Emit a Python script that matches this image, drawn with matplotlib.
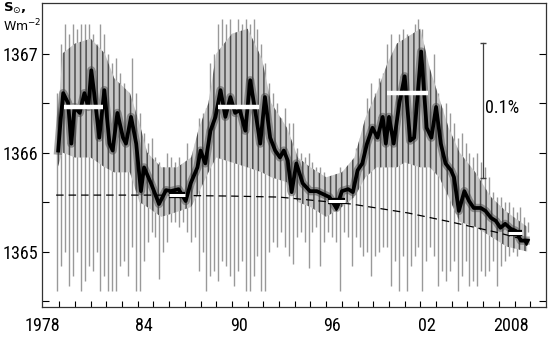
import numpy as np
import matplotlib
matplotlib.use("Agg")
import matplotlib.pyplot as plt

# quarterly envelope of the daily TSI values (W m-2)
spike_years = np.arange(1978.875, 2009.0, 0.25)
daily_max = [1366.6,
             1367.1, 1367.3, 1367.2, 1367.3,
             1367.25, 1367.3, 1367.3, 1367.3,
             1367.2, 1367.1, 1367.3, 1367.2,
             1367.0, 1366.9, 1366.95, 1366.8,
             1366.7, 1366.6, 1366.95, 1366.6,
             1366.4, 1366.2, 1366.1, 1366.15,
             1365.95, 1365.9, 1365.85, 1366.0,
             1365.95, 1365.9, 1365.95, 1365.85,
             1366.1, 1365.95, 1366.1, 1366.35,
             1366.4, 1366.45, 1366.9, 1367.0,
             1367.3, 1367.35, 1367.3, 1367.35,
             1367.2, 1367.35, 1367.3, 1367.35,
             1367.3, 1367.35, 1367.25, 1367.1,
             1366.9, 1366.7, 1366.6, 1366.5,
             1366.35, 1366.45, 1366.3, 1366.3,
             1366.05, 1366.0, 1365.95, 1366.0,
             1365.9, 1365.85, 1365.85, 1365.8,
             1365.75, 1365.7, 1365.7, 1365.85,
             1365.8, 1365.8, 1365.85, 1366.05,
             1366.15, 1366.25, 1366.55, 1366.7,
             1366.6, 1366.75, 1366.8, 1367.1,
             1367.2, 1367.0, 1367.2, 1367.25,
             1367.2, 1367.1, 1367.3, 1367.35,
             1367.25, 1366.9, 1366.75, 1367.0,
             1366.6, 1366.45, 1366.5, 1366.4,
             1366.3, 1366.15, 1366.2, 1366.1,
             1366.0, 1365.95, 1366.0, 1365.9,
             1365.85, 1365.75, 1365.6, 1365.55,
             1365.55, 1365.5, 1365.5, 1365.45,
             1365.4, 1365.45, 1365.35, 1365.3]
daily_min = [1364.6,
             1364.85, 1365.0, 1364.65, 1364.75,
             1365.0, 1364.6, 1364.7, 1364.85,
             1364.8, 1365.0, 1364.6, 1364.75,
             1364.6, 1364.6, 1364.6, 1364.85,
             1364.9, 1364.75, 1365.05, 1364.6,
             1364.6, 1364.9, 1365.1, 1365.2,
             1365.15, 1364.72, 1365.0, 1365.1,
             1365.3, 1365.3, 1365.25, 1365.3,
             1365.2, 1365.1, 1365.15, 1364.8,
             1365.0, 1364.6, 1364.75, 1364.8,
             1364.7, 1364.9, 1364.85, 1364.75,
             1364.65, 1364.8, 1364.9, 1364.6,
             1364.6, 1364.75, 1364.95, 1364.6,
             1364.6, 1365.0, 1365.1, 1365.05,
             1365.2, 1365.05, 1364.95, 1364.87,
             1365.15, 1365.2, 1365.1, 1364.83,
             1365.2, 1365.25, 1364.85, 1365.1,
             1365.2, 1365.15, 1365.1, 1364.6,
             1365.2, 1365.15, 1364.85, 1365.15,
             1365.05, 1364.95, 1365.0, 1364.75,
             1364.95, 1365.0, 1365.05, 1365.05,
             1364.65, 1364.9, 1364.6, 1364.95,
             1364.6, 1364.85, 1364.95, 1365.05,
             1364.6, 1364.9, 1365.05, 1364.95,
             1364.65, 1364.8, 1364.7, 1364.8,
             1364.9, 1364.6, 1364.75, 1364.9,
             1364.65, 1364.7, 1364.65, 1364.8,
             1364.75, 1364.8, 1364.9, 1364.65,
             1364.85, 1364.9, 1364.95, 1365.0,
             1364.95, 1365.05, 1365.1, 1365.2]

# where most of the daily values sit (the dark grey core)
core_years = [1978.9, 1979.2, 1980.0, 1981.0, 1981.9, 1982.5, 1983.5, 1984.1, 1984.6,
              1985.5, 1986.5, 1987.4, 1987.9, 1988.5, 1989.0, 1990.0, 1991.0, 1991.9,
              1992.5, 1993.5, 1994.2, 1995.0, 1996.0, 1997.0, 1997.8, 1998.5, 1999.2,
              1999.9, 2000.5, 2001.0, 2002.0, 2002.6, 2003.2, 2003.8, 2004.5, 2005.5,
              2006.5, 2007.5, 2008.8]
core_hi = [1366.3, 1367.0, 1367.1, 1367.15, 1367.0, 1366.75, 1366.6, 1366.3, 1366.0,
           1365.85, 1365.85, 1365.95, 1366.25, 1366.5, 1367.0, 1367.2, 1367.25, 1366.95,
           1366.5, 1366.25, 1365.95, 1365.85, 1365.75, 1365.8, 1365.95, 1366.35, 1366.6,
           1366.9, 1367.1, 1367.15, 1367.25, 1366.85, 1366.55, 1366.25, 1366.0, 1365.8,
           1365.55, 1365.4, 1365.25]
core_lo = [1365.85, 1366.0, 1365.95, 1365.95, 1365.85, 1365.8, 1365.8, 1365.5, 1365.45,
           1365.35, 1365.4, 1365.45, 1365.6, 1365.8, 1365.95, 1365.9, 1365.85, 1365.8,
           1365.75, 1365.7, 1365.5, 1365.45, 1365.35, 1365.45, 1365.55, 1365.75, 1365.85,
           1365.85, 1365.85, 1365.9, 1365.85, 1365.85, 1365.75, 1365.55, 1365.3, 1365.25,
           1365.15, 1365.05, 1365.0]

# running mean (black curve)
smooth_years = [1978.93, 1979.1, 1979.25, 1979.56, 1979.77, 1979.97, 1980.3, 1980.6,
                1980.85, 1981.04, 1981.2, 1981.55, 1981.87, 1982.2, 1982.4, 1982.7,
                1983.06, 1983.25, 1983.57, 1983.9, 1984.2, 1984.4, 1984.84, 1985.35,
                1985.8, 1986.1, 1986.6, 1987.05, 1987.37, 1987.8, 1988.0, 1988.3,
                1988.63, 1988.95, 1989.27, 1989.58, 1989.9, 1990.2, 1990.5, 1990.85,
                1991.16, 1991.5, 1991.8, 1992.1, 1992.43, 1992.75, 1993.06, 1993.3,
                1993.55, 1993.8, 1994.1, 1994.5, 1994.96, 1995.4, 1995.8, 1996.2,
                1996.65, 1997.0, 1997.4, 1997.7, 1998.0, 1998.3, 1998.6, 1998.95,
                1999.27, 1999.6, 1999.8, 2000.0, 2000.3, 2000.66, 2001.0, 2001.35,
                2001.6, 2002.05, 2002.4, 2002.7, 2003.0, 2003.3, 2003.6, 2003.95,
                2004.14, 2004.45, 2004.8, 2005.1, 2005.4, 2005.85, 2006.15, 2006.5,
                2006.8, 2007.1, 2007.4, 2007.75, 2008.06, 2008.4, 2008.7]
smooth_tsi = [1366.02, 1366.35, 1366.60, 1366.50, 1366.09, 1366.46, 1366.40, 1366.60,
              1366.46, 1366.83, 1366.63, 1366.15, 1366.63, 1366.09, 1366.02, 1366.40,
              1366.15, 1366.09, 1366.36, 1366.09, 1365.61, 1365.85, 1365.69, 1365.48,
              1365.62, 1365.61, 1365.63, 1365.51, 1365.69, 1365.85, 1366.02, 1365.89,
              1366.22, 1366.36, 1366.63, 1366.36, 1366.56, 1366.40, 1366.43, 1366.22,
              1366.73, 1366.40, 1366.09, 1366.56, 1366.15, 1366.02, 1365.95, 1366.02,
              1365.92, 1365.60, 1365.89, 1365.69, 1365.61, 1365.61, 1365.58, 1365.55,
              1365.44, 1365.61, 1365.63, 1365.60, 1365.82, 1365.89, 1366.09, 1366.25,
              1366.15, 1366.36, 1366.09, 1366.36, 1366.09, 1366.50, 1366.77, 1366.12,
              1366.15, 1367.02, 1366.25, 1366.15, 1366.46, 1366.09, 1365.89, 1365.82,
              1365.75, 1365.41, 1365.61, 1365.51, 1365.44, 1365.44, 1365.41, 1365.34,
              1365.31, 1365.24, 1365.28, 1365.23, 1365.21, 1365.11, 1365.11]

# dashed trend through the minima
trend_years = [1978.8, 1985.0, 1990.0, 1993.0, 1997.6, 2001.2, 2003.9, 2006.7, 2008.9]
trend_tsi = [1365.57, 1365.57, 1365.56, 1365.55, 1365.48, 1365.39, 1365.30, 1365.20, 1365.11]

# white bars: mean levels at cycle maxima and minima
max_start = [1979.3, 1989.1, 1999.9]
max_end = [1981.8, 1991.7, 2002.5]
max_level = [1366.46, 1366.46, 1366.60]
min_start = [1986.0, 1996.1, 2007.6]
min_end = [1987.0, 1997.2, 2008.45]
min_level = [1365.57, 1365.51, 1365.19]
min_mark_years = [1996.65, 2008.7]
min_mark_tsi = [1365.45, 1365.1]

tick_labels = ["1978", "84", "90", "96", "02", "2008"]
label_years = [1977.9, 1984.4, 1990.45, 1996.4, 2002.4, 2007.75]

narrow = ["Liberation Sans Narrow", "Roboto Condensed", "DejaVu Sans Condensed",
          "Liberation Sans", "DejaVu Sans"]

plt.rcParams["hatch.linewidth"] = 1.1
plt.rcParams["hatch.color"] = "0.3"

fig = plt.figure(figsize=(5.5, 3.48), dpi=100)
ax = fig.add_axes([42 / 550, 1 - 307 / 348, 504 / 550, 304 / 348])

ax.vlines(spike_years, daily_min, daily_max, color="0.6", lw=1.0, zorder=1)
# hatch density: each "|" adds 6 lines per inch
ax.fill_between(core_years, core_lo, core_hi, facecolor="0.78", edgecolor="0.3",
                hatch="|||", lw=0, zorder=2)
ax.plot(smooth_years, smooth_tsi, color="0.25", lw=6, alpha=0.45, zorder=3)
ax.plot(trend_years, trend_tsi, color="black", lw=0.9, dashes=(6, 4), zorder=3)
ax.plot(smooth_years, smooth_tsi, color="black", lw=2.7, zorder=4)

for a, b, lev in zip(max_start, max_end, max_level):
    ax.plot([a, b], [lev, lev], color="white", lw=3.2, solid_capstyle="butt", zorder=5)
for a, b, lev in zip(min_start, min_end, min_level):
    ax.plot([a, b], [lev, lev], color="black", lw=4.5, solid_capstyle="butt", zorder=5)
    ax.plot([a, b], [lev, lev], color="white", lw=2.2, solid_capstyle="butt", zorder=6)
ax.plot(min_mark_years, min_mark_tsi, "v", color="black", ms=5, zorder=6)

# 0.1 % scale bar
ax.plot([2006.0, 2006.0], [1365.74, 1367.11], color="0.25", lw=0.9, zorder=6)
ax.plot([2006.0, 2006.0], [1365.74, 1367.11], "_", color="0.25", ms=5, mew=1, zorder=6)
pct = ax.text(2007.2, 1366.45, "0.1%", family=narrow, fontstretch="condensed",
              fontsize=16, ha="center", va="center")

ax.set_xlim(1978, 2010)
ax.set_ylim(1364.44, 1367.51)

ax.set_yticks([1365, 1366, 1367])
ax.set_yticklabels(["1365", "1366", "1367"], family=narrow, fontstretch="condensed",
                   fontsize=16)
ax.set_yticks([1364.5, 1365.5, 1366.5], minor=True)
ax.set_xticks(label_years)
ax.set_xticklabels(tick_labels, family=narrow, fontstretch="condensed", fontsize=16)
ax.set_xticks(range(1979, 2010), minor=True)
ax.tick_params(axis="x", which="major", length=0, pad=7)
ax.tick_params(axis="x", which="minor", direction="in", length=4, width=0.8, top=False)
ax.tick_params(axis="y", which="both", direction="in", length=5, width=0.8,
               right=True, pad=3)

for sp in ax.spines.values():
    sp.set_linewidth(0.9)
    sp.set_color("0.2")

fig.text(3 / 550, 1 - 12 / 348, r"S$_{\odot}$,", fontsize=9.5, fontweight="bold",
         va="baseline")
fig.text(3 / 550, 1 - 31 / 348, r"Wm$^{-2}$", fontsize=9, va="baseline")

# shrink the tick-label font until "1367" fits into the left margin (~36 px)
fig.canvas.draw()
renderer = fig.canvas.get_renderer()
widest = max(t.get_window_extent(renderer).width for t in ax.get_yticklabels())
size = min(22, 16 * 36 / widest)
for t in ax.get_yticklabels() + ax.get_xticklabels():
    t.set_fontsize(size)
pct.set_fontsize(size)

fig.savefig("out.png", dpi=100)
